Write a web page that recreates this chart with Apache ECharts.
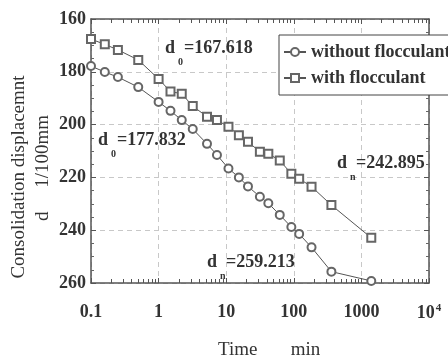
<!DOCTYPE html>
<html>
<head>
<meta charset="utf-8">
<script src="https://cdn.jsdelivr.net/npm/echarts@6/dist/echarts.min.js"></script>
<style>
  html, body { margin: 0; padding: 0; background: #fff; }
  #chart { width: 448px; height: 359px; }
</style>
</head>
<body>
<div id="chart"></div>
<script>
// times in min
const times = [0.1, 0.16, 0.25, 0.5, 1, 1.5, 2.2, 3.2, 5.2, 7.3, 10.8, 15.4, 21, 31.5, 42, 62, 92, 120, 183, 360, 1400];
const withoutFloc = [177.832, 180.1, 182.0, 185.8, 191.4, 194.8, 198.3, 201.7, 207.3, 211.5, 216.6, 220.0, 223.4, 227.3, 229.8, 234.2, 238.8, 241.4, 246.5, 255.7, 259.213];
const withFloc = [167.618, 169.6, 171.7, 175.5, 182.7, 187.5, 188.3, 193.0, 197.0, 198.3, 200.8, 204.0, 206.5, 210.3, 211.0, 213.6, 218.6, 220.5, 223.5, 230.5, 242.895];
const seriesNames = ['without flocculant', 'with flocculant'];
const xTickLabels = ['0.1', '1', '10', '100', '1000', '{b|10}{sup|4}'];

const ink = '#333';
const serif = '"Liberation Serif", "DejaVu Serif", serif';
const boldFont = 'bold 18px ' + serif;

// log minor tick positions (2..9 in every decade), expressed as exponents
const minorTicks = [];
for (let k = -1; k <= 3; k++) {
  for (let m = 2; m <= 9; m++) minorTicks.push(k + Math.log10(m));
}

const chart = echarts.init(document.getElementById('chart'));

const logAxisCommon = {
  type: 'log',
  logBase: 10,
  min: 0.1,
  max: 10000,
  axisLine: { show: true, onZero: false, lineStyle: { color: '#555', width: 1.5 } },
  axisTick: { show: true, inside: true, length: 5, lineStyle: { color: '#555' } },
};

// linear exponent axis, only used to draw the log minor ticks
const minorAxis = (pos) => ({
  type: 'value',
  min: -1,
  max: 4,
  position: pos,
  axisLine: { show: false, onZero: false },
  axisLabel: { show: false },
  splitLine: { show: false },
  axisTick: { show: true, inside: true, length: 4, customValues: minorTicks, lineStyle: { color: '#555' } },
});

const valAxisCommon = {
  type: 'value',
  inverse: true,
  min: 160,
  max: 260,
  interval: 20,
  axisLine: { show: true, onZero: false, lineStyle: { color: '#555', width: 1.5 } },
  axisTick: { show: true, inside: true, length: 5, lineStyle: { color: '#555' } },
  minorTick: { show: true, splitNumber: 4, length: 3, lineStyle: { color: '#666' } },
};

// annotation label: "d  =value" with a dropped subscript
function note(x, y, sub, value) {
  return [
    { type: 'text', x: x, y: y, z: 50,
      style: { text: 'd  =' + value, font: boldFont, fill: ink, textVerticalAlign: 'middle' } },
    { type: 'text', x: x + 13, y: y + 14, z: 50,
      style: { text: sub, font: 'bold 10px ' + serif, fill: ink, textVerticalAlign: 'middle' } },
  ];
}

const option = {
  backgroundColor: '#fff',
  animation: false,
  grid: { left: 91, right: 19, top: 19, bottom: 76, containLabel: false },
  legend: {
    data: seriesNames,
    orient: 'vertical',
    left: 279,
    top: 35,
    padding: [8, 8, 8, 4],
    itemGap: 8,
    itemWidth: 22,
    itemHeight: 10,
    backgroundColor: '#fff',
    borderColor: '#444',
    borderWidth: 1,
    textStyle: { fontFamily: serif, fontWeight: 'bold', fontSize: 18, color: ink },
  },
  xAxis: [
    Object.assign({}, logAxisCommon, {
      position: 'bottom',
      axisLabel: {
        margin: 20,
        fontFamily: serif,
        fontWeight: 'bold',
        fontSize: 18,
        color: ink,
        formatter: function (v) {
          return xTickLabels[Math.round(Math.log10(v)) + 1];
        },
        rich: {
          b: { fontFamily: serif, fontWeight: 'bold', fontSize: 18, color: ink, lineHeight: 20 },
          sup: { fontFamily: serif, fontWeight: 'bold', fontSize: 11, color: ink, verticalAlign: 'top', lineHeight: 20, padding: [0, 0, 8, 1] },
        },
      },
      splitLine: { show: true, lineStyle: { color: '#c8c8c8', type: [5, 4], width: 1 } },
    }),
    Object.assign({}, logAxisCommon, {
      position: 'top',
      axisLabel: { show: false },
      splitLine: { show: false },
    }),
    minorAxis('bottom'),
    minorAxis('top'),
  ],
  yAxis: [
    Object.assign({}, valAxisCommon, {
      position: 'left',
      axisLabel: { margin: 5, fontFamily: serif, fontWeight: 'bold', fontSize: 18, color: ink },
      splitLine: { show: true, lineStyle: { color: '#c8c8c8', type: [5, 4], width: 1 } },
    }),
    Object.assign({}, valAxisCommon, {
      position: 'right',
      axisLabel: { show: false },
      splitLine: { show: false },
    }),
  ],
  series: [
    {
      name: seriesNames[0],
      type: 'line',
      data: times.map((t, i) => [t, withoutFloc[i]]),
      symbol: 'emptyCircle',
      symbolSize: 8,
      lineStyle: { color: '#555', width: 1 },
      itemStyle: { color: '#666', borderWidth: 1 },
    },
    {
      name: seriesNames[1],
      type: 'line',
      data: times.map((t, i) => [t, withFloc[i]]),
      symbol: 'emptyRect',
      symbolSize: 8,
      lineStyle: { color: '#555', width: 1 },
      itemStyle: { color: '#666', borderWidth: 1 },
    },
  ],
  graphic: [
    ...note(165, 48, '0', withFloc[0]),
    ...note(98, 140, '0', withoutFloc[0]),
    ...note(337, 163, 'n', withFloc[withFloc.length - 1]),
    ...note(207, 262, 'n', withoutFloc[withoutFloc.length - 1]),
    { type: 'text', x: 218, y: 350,
      style: { text: 'Time       min', font: '19px ' + serif, fill: ink, textVerticalAlign: 'middle' } },
    { type: 'text', x: 19, y: 177, rotation: Math.PI / 2,
      style: { text: 'Consolidation displacemnt', font: '19px ' + serif, fill: ink, textAlign: 'center', textVerticalAlign: 'middle' } },
    { type: 'text', x: 43, y: 168, rotation: Math.PI / 2,
      style: { text: 'd     1/100mm', font: '19px ' + serif, fill: ink, textAlign: 'center', textVerticalAlign: 'middle' } },
  ],
};

chart.setOption(option);
</script>
</body>
</html>
